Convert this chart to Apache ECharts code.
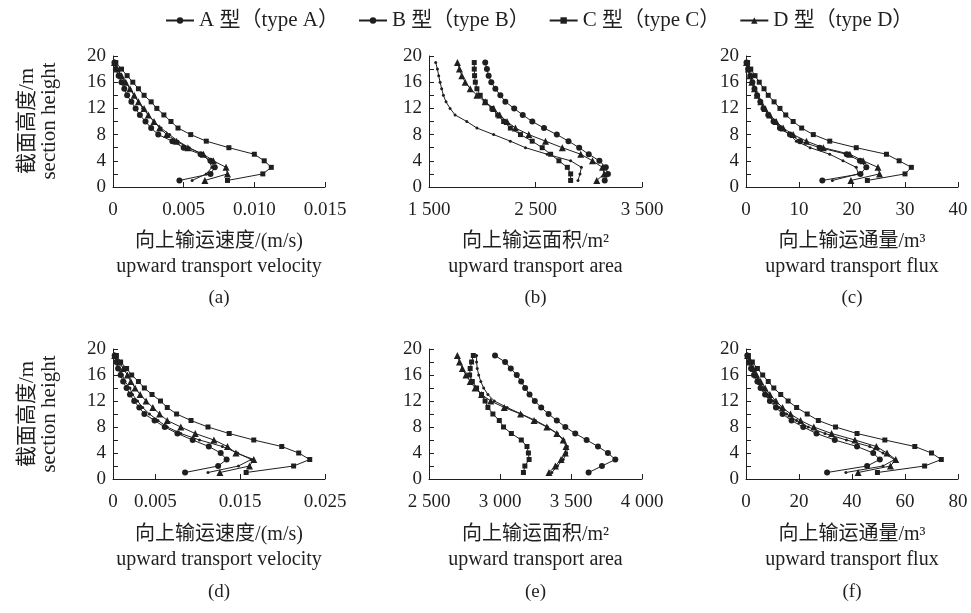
<!DOCTYPE html>
<html>
<head>
<meta charset="utf-8">
<script src="https://cdn.jsdelivr.net/npm/echarts@6/dist/echarts.min.js"></script>
<style>
html,body{margin:0;padding:0;background:#fff;}
#chart{width:971px;height:613px;}
</style>
</head>
<body>
<div id="chart"></div>
<script>
// ---- data ----
const heights = [1,2,3,4,5,6,7,8,9,10,11,12,13,14,15,16,17,18,19];
const typeNames = ['A 型（type A）','B 型（type B）','C 型（type C）','D 型（type D）'];

// (a) upward transport velocity
const aA = [0.0056,0.0066,0.0070,0.0068,0.0063,0.0054,0.0046,0.0040,0.0034,0.0029,0.0025,0.0021,0.0018,0.0015,0.0012,0.0009,0.0006,0.0003,0.0001];
const aB = [0.0047,0.0069,0.0072,0.0069,0.0062,0.0050,0.0042,0.0032,0.0027,0.0023,0.0019,0.0016,0.0013,0.0010,0.0008,0.0006,0.0004,0.0002,0.0001];
const aC = [0.0081,0.0106,0.0112,0.0107,0.0100,0.0082,0.0066,0.0055,0.0046,0.0041,0.0036,0.0031,0.0027,0.0022,0.0018,0.0014,0.0010,0.0006,0.0002];
const aD = [0.0065,0.0081,0.0080,0.0071,0.0064,0.0053,0.0045,0.0038,0.0033,0.0029,0.0025,0.0022,0.0018,0.0015,0.0012,0.0009,0.0006,0.0003,0.0001];
// (b) upward transport area
const bA = [2899,2918,2931,2830,2610,2406,2264,2107,1950,1855,1745,1698,1660,1635,1619,1604,1591,1579,1563];
const bB = [3150,3180,3160,3100,3000,2910,2810,2700,2580,2470,2380,2300,2217,2170,2123,2085,2060,2044,2028];
const bC = [2830,2830,2799,2720,2642,2563,2469,2359,2264,2201,2145,2091,2028,1981,1950,1935,1928,1925,1925];
const bD = [3075,3145,3129,3035,2925,2752,2594,2437,2311,2233,2164,2107,2028,1950,1887,1840,1808,1786,1767];
// (c) upward transport flux
const cA = [16.3,21.2,20.8,18.3,15.8,12.1,9.5,8.2,6.5,5.3,4.2,3.4,2.7,2.0,1.5,1.1,0.7,0.4,0.1];
const cB = [14.4,21.6,22.7,21.5,19.0,13.9,10.2,8.3,6.4,5.2,4.2,3.3,2.7,2.1,1.6,1.2,0.8,0.4,0.1];
const cC = [22.9,30.0,31.2,28.9,26.5,20.8,15.8,12.7,10.5,8.9,7.5,6.4,5.3,4.2,3.4,2.5,1.7,0.9,0.3];
const cD = [19.8,25.2,24.9,22.1,19.6,14.6,11.4,8.9,7.0,5.7,4.5,3.6,2.8,2.1,1.6,1.1,0.75,0.45,0.1];
// (d) upward transport velocity
const dA = [0.0112,0.0148,0.0163,0.0147,0.0129,0.0102,0.0080,0.0064,0.0053,0.0043,0.0035,0.0029,0.0023,0.0020,0.0014,0.0011,0.0007,0.0004,0.0002];
const dB = [0.0085,0.0124,0.0134,0.0127,0.0113,0.0094,0.0076,0.0061,0.0049,0.0037,0.0031,0.0025,0.0020,0.0016,0.0012,0.0009,0.0006,0.0004,0.0002];
const dC = [0.0157,0.0213,0.0232,0.0219,0.0199,0.0166,0.0137,0.0112,0.0092,0.0075,0.0064,0.0056,0.0046,0.0037,0.0030,0.0022,0.0016,0.0009,0.0004];
const dD = [0.0126,0.0161,0.0166,0.0145,0.0135,0.0119,0.0097,0.0080,0.0064,0.0055,0.0047,0.0039,0.0032,0.0026,0.0021,0.0017,0.0012,0.0007,0.0002];
// (e) upward transport area
const eA = [3365,3405,3445,3470,3475,3450,3405,3335,3250,3150,3050,2960,2915,2885,2865,2850,2840,2835,2835];
const eB = [3624,3718,3812,3760,3690,3610,3530,3460,3400,3342,3290,3245,3208,3177,3149,3118,3076,3036,2965];
const eC = [3165,3175,3205,3200,3190,3150,3080,3025,2995,2950,2915,2895,2870,2835,2805,2786,2790,2800,2812];
const eD = [3345,3390,3430,3460,3465,3445,3400,3330,3240,3145,3030,2935,2870,2825,2790,2760,2735,2715,2700];
// (f) upward transport flux
const fA = [37.7,51.7,56.1,51.7,46.7,37.9,29.8,23.5,19.1,15.3,12.6,10.3,8.0,6.5,5.0,3.6,2.4,1.5,0.5];
const fB = [30.6,45.7,50.5,48.0,41.9,33.5,26.6,21.6,17.2,13.8,11.3,9.0,7.2,5.5,4.3,3.0,1.9,1.1,0.5];
const fC = [49.6,67.4,73.7,70.0,63.7,52.4,41.9,33.8,27.3,23.1,19.1,15.9,13.1,10.5,8.4,6.3,4.3,2.4,0.9];
const fD = [42.3,54.5,56.5,53.2,49.2,41.1,32.3,25.6,20.6,16.8,13.8,11.3,9.0,7.2,5.5,4.0,2.8,1.6,0.6];

// tick label values
const aTicks = [0,0.005,0.010,0.015];
const bTicks = [1500,2500,3500];
const cTicks = [0,10,20,30,40];
const dTicks = [0,0.005,0.015,0.025];
const eTicks = [2500,3000,3500,4000];
const fTicks = [0,20,40,60,80];
const yTicks = [0,4,8,12,16,20];

const panelLetters = ['(a)','(b)','(c)','(d)','(e)','(f)'];
const nameVel = '向上输运速度/(m/s)\nupward transport velocity';
const nameArea = '向上输运面积/m²\nupward transport area';
const nameFlux = '向上输运通量/m³\nupward transport flux';

// ---- build ----
const FONT = '"Liberation Serif","Noto Sans CJK SC",serif';
const INK = '#1f1f1f';
const panels = [
  {series:[aA,aB,aC,aD], ticks:aTicks, min:0, max:0.015, name:nameVel, fmt:v=> v===0?'0':v.toFixed(3)},
  {series:[bA,bB,bC,bD], ticks:bTicks, min:1500, max:3500, name:nameArea, fmt:v=> String(v).replace(/(\d)(\d{3})$/,'$1 $2')},
  {series:[cA,cB,cC,cD], ticks:cTicks, min:0, max:40, name:nameFlux, fmt:v=> String(v)},
  {series:[dA,dB,dC,dD], ticks:dTicks, min:0, max:0.025, name:nameVel, fmt:v=> v===0?'0':v.toFixed(3)},
  {series:[eA,eB,eC,eD], ticks:eTicks, min:2500, max:4000, name:nameArea, fmt:v=> String(v).replace(/(\d)(\d{3})$/,'$1 $2')},
  {series:[fA,fB,fC,fD], ticks:fTicks, min:0, max:80, name:nameFlux, fmt:v=> String(v)}
];
const colLeft = [113, 429, 746];
const colWidth = [212, 213, 212];
const rowTop = [56, 349];
const rowHeight = [131, 130];

const symbols = [
  {symbol:'circle', size:3},
  {symbol:'circle', size:6},
  {symbol:'rect', size:5},
  {symbol:'triangle', size:7}
];

const grids = [], xAxes = [], yAxes = [], series = [], graphics = [];
panels.forEach((p, i) => {
  const r = Math.floor(i/3), c = i%3;
  grids.push({left:colLeft[c], top:rowTop[r], width:colWidth[c], height:rowHeight[r], containLabel:false});
  xAxes.push({
    type:'value', gridIndex:i, min:p.min, max:p.max,
    axisLine:{show:true, lineStyle:{color:INK, width:1}},
    axisTick:{show:true, inside:true, length:5, lineStyle:{color:INK}, customValues:p.ticks},
    axisLabel:{customValues:p.ticks, formatter:p.fmt, color:INK, fontFamily:FONT, fontSize:19, margin:14},
    splitLine:{show:false},
    name:p.name, nameLocation:'middle', nameGap:[42,43][r],
    nameTextStyle:{color:INK, fontFamily:FONT, fontSize:20, lineHeight:25}
  });
  yAxes.push({
    type:'value', gridIndex:i, min:0, max:20, interval:2,
    axisLine:{show:true, lineStyle:{color:INK, width:1}},
    axisTick:{show:true, inside:true, length:5, lineStyle:{color:INK}},
    axisLabel:{color:INK, fontFamily:FONT, fontSize:19, margin:7, formatter:v=> yTicks.indexOf(v)>=0 ? String(v) : ''},
    splitLine:{show:false}
  });
  p.series.forEach((vals, k) => {
    series.push({
      type:'line', name:typeNames[k], xAxisIndex:i, yAxisIndex:i,
      data: vals.map((v, j) => [v, heights[j]]),
      symbol:symbols[k].symbol, symbolSize:symbols[k].size, showSymbol:true,
      lineStyle:{color:INK, width:1}, itemStyle:{color:INK},
      emphasis:{disabled:true}, animation:false
    });
  });
  graphics.push({type:'text', x:colLeft[c]+colWidth[c]/2, y:[298,592][r],
    style:{text:panelLetters[i], fill:INK, font:'19px "Liberation Serif",serif', textAlign:'center', textVerticalAlign:'middle'}});
});
[121, 414].forEach(cy => {
  graphics.push({type:'text', x:38, y:cy, rotation:Math.PI/2,
    style:{text:'截面高度/m\nsection height', fill:INK, font:'21px "Liberation Serif","Noto Sans CJK SC",serif', lineHeight:22, textAlign:'center', textVerticalAlign:'middle'}});
});

const chart = echarts.init(document.getElementById('chart'), null, {renderer:'canvas'});
chart.setOption({
  animation:false,
  backgroundColor:'#fff',
  color:[INK,INK,INK,INK],
  legend:{
    data:typeNames, top:5, left:160, itemWidth:28, itemHeight:8, itemGap:19,
    textStyle:{color:INK, fontFamily:FONT, fontSize:21}, selectedMode:false
  },
  grid:grids, xAxis:xAxes, yAxis:yAxes, series:series, graphic:graphics
});
</script>
</body>
</html>
